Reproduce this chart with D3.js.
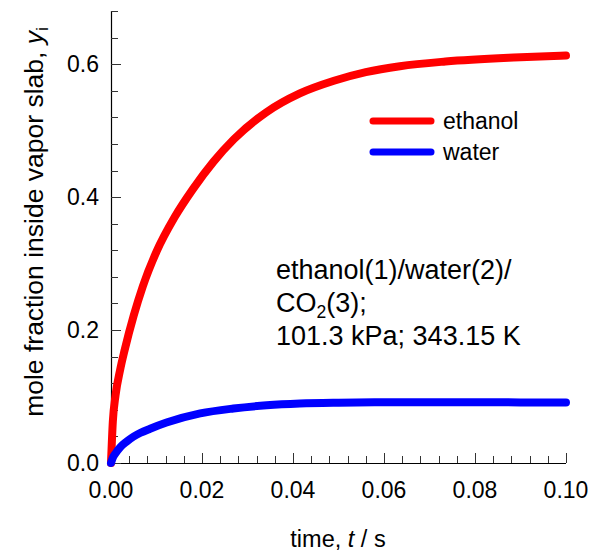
<!DOCTYPE html>
<html>
<head>
<meta charset="utf-8">
<script src="https://cdn.jsdelivr.net/npm/d3@7"></script>
<style>
  html, body { margin: 0; padding: 0; background: #fff; }
  text { font-family: "Liberation Sans", Arial, sans-serif; fill: #000; }
</style>
</head>
<body>
<svg id="chart" width="590" height="553"></svg>
<script>
// ---- data ----
const ethanolTime = [0, 0.0004, 0.001, 0.002, 0.003, 0.005, 0.007, 0.01, 0.014, 0.018, 0.0225, 0.027, 0.034, 0.0415, 0.049, 0.056, 0.0635, 0.0735, 0.0885, 0.1];
const ethanolY    = [0, 0.062, 0.102, 0.140, 0.170, 0.222, 0.266, 0.318, 0.370, 0.412, 0.453, 0.487, 0.527, 0.556, 0.575, 0.588, 0.597, 0.604, 0.610, 0.613];
const waterTime   = [0, 0.0004, 0.001, 0.002, 0.0035, 0.0049, 0.0065, 0.0086, 0.0122, 0.0196, 0.0269, 0.0342, 0.0415, 0.05, 0.06, 0.07, 0.08, 0.09, 0.1];
const waterY      = [0, 0.008, 0.0145, 0.0235, 0.0325, 0.0395, 0.0455, 0.0515, 0.0608, 0.0746, 0.0820, 0.0868, 0.0895, 0.0908, 0.0914, 0.0914, 0.0913, 0.0912, 0.0911];
const seriesNames = ["ethanol", "water"];
const seriesColors = ["#ff0000", "#0000ff"];
const xTickValues = [0, 0.02, 0.04, 0.06, 0.08, 0.10];
const yTickValues = [0, 0.2, 0.4, 0.6];
const annotationLines = ["ethanol(1)/water(2)/", "CO", "101.3 kPa; 343.15 K"];

// ---- layout ----
const svg = d3.select("#chart");
const x = d3.scaleLinear().domain([0, 0.10]).range([111, 566]);
const y = d3.scaleLinear().domain([0, 0.68]).range([463, 11]);
const FS = 23;

// minor ticks
const xMinor = d3.range(0, 0.1001, 0.004).filter(v => !xTickValues.some(t => Math.abs(t - v) < 1e-9));
const yMinor = d3.range(0, 0.6801, 0.04).filter(v => !yTickValues.some(t => Math.abs(t - v) < 1e-9));

const axisG = svg.append("g");
axisG.append("line").attr("x1", x(0)).attr("x2", x(0.1)).attr("y1", y(0) + 0.5).attr("y2", y(0) + 0.5)
  .attr("stroke", "#000").attr("stroke-width", 1.2);
axisG.append("line").attr("x1", x(0) + 0.5).attr("x2", x(0) + 0.5).attr("y1", y(0)).attr("y2", y(0.68))
  .attr("stroke", "#000").attr("stroke-width", 1.2);

axisG.selectAll(".xmaj").data(xTickValues).join("line")
  .attr("x1", d => Math.round(x(d)) + 0.5).attr("x2", d => Math.round(x(d)) + 0.5)
  .attr("y1", y(0)).attr("y2", y(0) - 10).attr("stroke", "#333");
axisG.selectAll(".xmin").data(xMinor).join("line")
  .attr("x1", d => Math.round(x(d)) + 0.5).attr("x2", d => Math.round(x(d)) + 0.5)
  .attr("y1", y(0)).attr("y2", y(0) - 7).attr("stroke", "#333");
axisG.selectAll(".ymaj").data(yTickValues).join("line")
  .attr("y1", d => Math.round(y(d)) + 0.5).attr("y2", d => Math.round(y(d)) + 0.5)
  .attr("x1", x(0)).attr("x2", x(0) + 10).attr("stroke", "#333");
axisG.selectAll(".ymin").data(yMinor).join("line")
  .attr("y1", d => Math.round(y(d)) + 0.5).attr("y2", d => Math.round(y(d)) + 0.5)
  .attr("x1", x(0)).attr("x2", x(0) + 7).attr("stroke", "#333");

// tick labels
svg.selectAll(".xl").data(xTickValues).join("text")
  .attr("x", d => x(d)).attr("y", 498).attr("text-anchor", "middle")
  .attr("font-size", FS).text(d => d3.format(".2f")(d));
svg.selectAll(".yl").data(yTickValues).join("text")
  .attr("x", 99).attr("y", d => y(d) + 8).attr("text-anchor", "end")
  .attr("font-size", FS).text(d => d3.format(".1f")(d));

// axis titles
const xt = svg.append("text").attr("x", 338).attr("y", 547).attr("text-anchor", "middle").attr("font-size", 23.5);
xt.append("tspan").text("time, ");
xt.append("tspan").attr("font-style", "italic").text("t");
xt.append("tspan").text(" / s");

const YFS = 26.5;
const yt = svg.append("text").attr("transform", "translate(43,222) rotate(-90)")
  .attr("text-anchor", "middle").attr("font-size", YFS);
yt.append("tspan").text("mole fraction inside vapor slab, ");
yt.append("tspan").attr("font-style", "italic").text("y");
yt.append("tspan").attr("font-size", YFS * 0.65).attr("dy", 5).text("i");

// curves
const line = d3.line().x(d => x(d[0])).y(d => y(d[1])).curve(d3.curveMonotoneX);
const seriesData = [
  d3.zip(ethanolTime, ethanolY),
  d3.zip(waterTime, waterY)
];
svg.selectAll(".curve").data(seriesData).join("path")
  .attr("d", line).attr("fill", "none")
  .attr("stroke", (d, i) => seriesColors[i]).attr("stroke-width", 8)
  .attr("stroke-linecap", "round").attr("stroke-linejoin", "round");

// legend
const legendY = [121, 152];
seriesNames.forEach((name, i) => {
  svg.append("line").attr("x1", 373).attr("x2", 431).attr("y1", legendY[i]).attr("y2", legendY[i])
    .attr("stroke", seriesColors[i]).attr("stroke-width", 7).attr("stroke-linecap", "round");
  svg.append("text").attr("x", 443).attr("y", legendY[i] + 8).attr("font-size", FS).text(name);
});

// annotation
const AFS = 27;
svg.append("text").attr("x", 276).attr("y", 279).attr("font-size", AFS).text(annotationLines[0]);
const a2 = svg.append("text").attr("x", 276).attr("y", 312).attr("font-size", AFS);
a2.append("tspan").text(annotationLines[1]);
a2.append("tspan").attr("font-size", AFS * 0.65).attr("dy", 6).text("2");
a2.append("tspan").attr("dy", -6).text("(3);");
svg.append("text").attr("x", 276).attr("y", 345).attr("font-size", AFS).text(annotationLines[2]);
</script>
</body>
</html>
